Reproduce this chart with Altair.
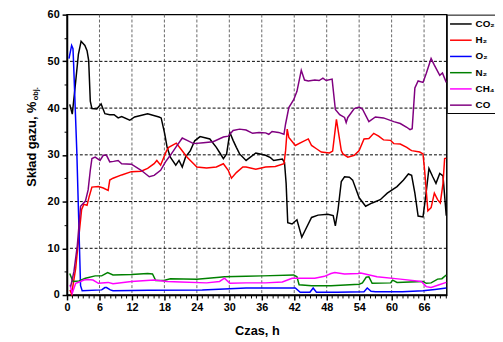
import altair as alt
import pandas as pd

# ---- data ----
gases = ["CO₂", "H₂", "O₂", "N₂", "CH₄", "CO"]
colors = ["#000000", "#ff0000", "#0000ff", "#008000", "#ff00ff", "#800080"]

co2_t = [0.5, 0.97, 1.6, 2.1, 2.6, 3.3, 3.7, 4.0, 4.3, 4.6, 5.5, 6.3, 7.0, 7.9, 8.7, 9.45, 10.1, 11.6, 12.5, 14.9,
         17.0, 17.4, 18.06, 18.5, 19.1, 20.1, 20.7, 21.3, 21.9, 22.8, 23.6, 24.6, 26.4, 27.6, 28.2, 28.9, 29.5, 30.1,
         30.7, 31.3, 31.9, 33.1, 34.9, 36.7, 37.6, 38.2, 39.8, 40.2, 40.5, 40.8, 41.6, 42.5, 43.4, 44.0, 45.2, 46.4,
         48.2, 49.2, 49.6, 50.1, 50.7, 51.3, 52.2, 52.8, 54.0, 55.2, 56.4, 57.9, 59.2, 61.0, 62.2, 63.1, 63.7, 64.3,
         64.9, 65.8, 66.3, 66.9, 67.6, 68.2, 68.9, 69.5, 70.1]
co2_v = [40.8, 38.7, 45.7, 51.5, 54.3, 53.4, 52.3, 50.2, 41.5, 39.9, 39.8, 40.9, 38.8, 38.6, 38.6, 37.9, 38.2, 37.4, 38.1, 38.8,
         38.1, 37.9, 34.5, 31.6, 29.5, 27.8, 28.8, 27.4, 29.5, 30.9, 33.0, 33.9, 33.4, 31.6, 30.5, 29.2, 30.2, 34.8,
         33.1, 31.6, 30.2, 28.8, 30.4, 29.9, 29.4, 28.8, 29.1, 28.4, 23.9, 15.5, 15.2, 16.1, 12.4, 13.8, 16.6, 17.1,
         17.3, 17.0, 14.8, 18.3, 24.3, 25.3, 25.2, 24.6, 20.8, 19.0, 19.7, 20.4, 21.8, 23.2, 24.6, 25.9, 25.6, 21.8,
         16.9, 16.7, 21.1, 27.1, 25.3, 23.9, 26.0, 25.5, 17.0]

h2_t = [0.55, 0.85, 1.6, 2.2, 2.7, 3.1, 3.7, 4.1, 4.6, 5.8, 6.7, 7.6, 7.9, 8.5, 10.1, 11.9, 13.7, 14.9, 16.1, 16.6,
        17.3, 17.9, 18.4, 18.8, 20.2, 21.0, 22.2, 24.0, 25.8, 27.6, 28.9, 29.8, 30.4, 31.3, 32.5, 33.1, 34.9, 36.7,
        38.5, 40.1, 40.4, 40.7, 41.0, 42.2, 43.4, 44.6, 45.2, 46.1, 47.0, 48.5, 49.1, 49.8, 50.7, 51.0, 51.9, 53.1,
        54.0, 54.9, 55.8, 56.7, 57.6, 58.5, 59.8, 60.4, 61.6, 62.8, 63.4, 63.7, 65.2, 65.8, 66.1, 66.7, 67.3, 67.9,
        68.5, 69.0, 69.5, 69.8, 70.1]
h2_v = [1.1, 0.2, 5.7, 12.7, 18.3, 19.4, 19.2, 21.1, 23.1, 23.2, 22.9, 22.4, 24.6, 25.0, 25.7, 26.4, 26.5, 27.1, 28.1, 28.8,
        27.8, 29.5, 30.9, 31.6, 32.5, 31.3, 29.5, 27.4, 27.2, 27.4, 28.1, 26.7, 25.0, 26.2, 27.4, 27.4, 26.9, 27.4,
        27.5, 28.1, 30.9, 35.5, 33.7, 32.0, 32.7, 33.4, 32.0, 31.3, 30.6, 30.4, 30.8, 37.6, 30.9, 30.2, 29.5, 29.9,
        30.9, 33.4, 33.5, 34.6, 34.0, 33.2, 33.1, 32.4, 32.3, 31.6, 31.1, 30.9, 30.6, 30.2, 26.7, 18.0, 18.7, 21.8,
        20.4, 19.7, 23.9, 29.2, 29.3]

o2_t = [0.36, 0.85, 1.1, 1.2, 1.8, 2.5, 2.8, 6.4, 7.0, 7.3, 8.0, 8.5, 15.0, 25.0, 33.1, 42.2, 43.1, 44.9, 45.5, 46.1,
        50.0, 54.9, 55.5, 56.2, 57.0, 62.0, 65.8, 68.0, 70.1]
o2_v = [50.6, 53.4, 52.7, 50.0, 31.0, 2.0, 0.9, 1.1, 1.6, 1.6, 1.1, 0.9, 1.0, 1.1, 1.5, 1.5, 0.6, 0.6, 1.5, 0.6,
        0.6, 0.7, 1.5, 0.8, 0.7, 0.7, 0.9, 1.2, 1.5]

n2_t = [0.5, 1.1, 2.2, 3.4, 5.2, 6.4, 7.5, 8.5, 11.9, 14.9, 15.8, 16.4, 17.9, 19.1, 24.0, 28.2, 29.1, 33.1, 36.1, 41.9,
        42.5, 42.9, 45.2, 48.8, 54.0, 54.6, 55.3, 55.8, 56.4, 59.8, 60.2, 61.0, 65.8, 66.4, 67.3, 68.5, 69.3, 70.1]
n2_v = [4.6, 2.9, 3.0, 3.6, 4.1, 4.1, 4.8, 4.3, 4.4, 4.6, 4.5, 3.1, 3.1, 3.5, 3.4, 3.8, 3.9, 4.0, 4.1, 4.3,
        3.9, 2.2, 2.0, 2.0, 2.3, 2.6, 3.8, 3.9, 2.5, 2.6, 3.2, 2.7, 2.9, 2.5, 2.6, 3.4, 3.5, 4.3]

ch4_t = [0.55, 0.97, 1.6, 2.5, 3.1, 3.9, 4.8, 5.8, 7.6, 8.5, 11.9, 16.1, 18.5, 21.0, 25.8, 28.2, 29.1, 30.1, 33.1, 36.7,
         39.8, 41.6, 42.8, 45.8, 47.6, 48.8, 49.5, 51.3, 53.8, 54.3, 57.3, 61.6, 65.5, 66.4, 67.3, 68.8, 70.1]
ch4_v = [2.2, 0.4, 2.5, 2.9, 3.2, 3.3, 3.2, 2.5, 2.7, 2.4, 2.9, 3.2, 2.9, 2.8, 2.6, 2.9, 3.6, 2.5, 2.6, 2.6,
         2.8, 3.6, 3.6, 3.6, 4.0, 4.6, 4.8, 4.5, 4.6, 4.7, 3.9, 3.4, 2.9, 1.8, 1.6, 2.2, 2.7]

co_t = [0.67, 1.27, 1.9, 2.5, 3.4, 3.9, 4.3, 4.6, 5.2, 6.1, 6.7, 7.3, 7.9, 8.6, 9.45, 10.1, 11.9, 13.7, 15.2, 16.1,
        17.3, 18.2, 19.1, 20.1, 21.3, 22.2, 23.4, 25.2, 27.0, 28.9, 29.8, 30.7, 31.9, 33.1, 34.3, 35.5, 36.7, 37.3,
        37.9, 39.1, 40.1, 40.4, 41.0, 41.9, 42.5, 43.3, 43.9, 44.6, 45.8, 46.6, 47.3, 47.9, 49.0, 49.6, 50.4, 51.3,
        51.6, 51.9, 53.1, 54.0, 54.6, 55.8, 57.0, 58.5, 60.4, 61.6, 62.8, 63.4, 63.8, 64.3, 64.9, 65.8, 66.4, 67.3,
        67.9, 68.9, 69.4, 70.1]
co_v = [1.8, 5.0, 10.6, 19.0, 20.1, 22.5, 26.7, 29.2, 29.5, 28.8, 29.9, 29.9, 28.5, 28.6, 28.8, 28.1, 28.0, 26.7, 25.3, 25.6,
        26.7, 28.5, 29.9, 31.6, 33.6, 33.1, 32.4, 32.6, 32.8, 33.8, 34.0, 35.2, 35.5, 35.3, 34.6, 34.8, 34.7, 34.4,
        35.0, 34.8, 34.4, 36.6, 40.1, 41.8, 43.6, 48.1, 46.0, 45.8, 46.0, 45.9, 46.4, 45.9, 46.2, 39.7, 38.6, 38.0,
        36.9, 38.0, 39.9, 40.2, 39.8, 37.1, 38.1, 37.9, 37.1, 36.7, 35.9, 35.4, 35.6, 44.3, 45.8, 45.5, 47.4, 50.6,
        49.2, 47.0, 47.5, 45.5]

x_ticks = list(range(0, 71))          # major every 6 h, minor every 1 h
y_ticks = list(range(0, 61, 5))       # major every 10, minor every 5
x_grid = [6, 12, 18, 24, 30, 36, 42, 48, 54, 60, 66]
y_grid = [10, 20, 30, 40, 50]

series = [(gases[0], co2_t, co2_v), (gases[1], h2_t, h2_v), (gases[2], o2_t, o2_v),
          (gases[3], n2_t, n2_v), (gases[4], ch4_t, ch4_v), (gases[5], co_t, co_v)]
rows = []
for g, ts, vs in series:
    for t, v in zip(ts, vs):
        rows.append({"gas": g, "t": t, "v": v})
df = pd.DataFrame(rows)

FONT = "Liberation Sans"
xs = alt.Scale(domain=[0, 70.2], nice=False, zero=False)
ys = alt.Scale(domain=[0, 60], nice=False)

xmaj = "datum.value % 6 === 0"
ymaj = "datum.value % 10 === 0"

x_axis = alt.Axis(values=x_ticks, orient="bottom", title="Czas, h",
                  labelExpr=f"{xmaj} ? datum.label : ''", labelOverlap=False,
                  grid=False,
                  tickSize={"condition": {"test": xmaj, "value": 5}, "value": 3},
                  tickWidth={"condition": {"test": xmaj, "value": 1.5}, "value": 1},
                  tickColor="black",
                  domainColor="black", domainWidth=1.5,
                  labelFont=FONT, labelFontSize=11, labelFontWeight="bold",
                  labelColor="black", labelPadding=2, labelFlush=False,
                  titleFont=FONT, titleFontSize=13, titleFontWeight="bold",
                  titleColor="black", titleBaseline="alphabetic", titleY=40)
y_axis = alt.Axis(values=y_ticks, orient="left", title=None,
                  labelExpr=f"{ymaj} ? datum.label : ''", labelOverlap=False,
                  grid=False,
                  tickSize={"condition": {"test": ymaj, "value": 5}, "value": 3},
                  tickWidth={"condition": {"test": ymaj, "value": 1.5}, "value": 1},
                  tickColor="black",
                  domainColor="black", domainWidth=1.5,
                  labelFont=FONT, labelFontSize=11, labelFontWeight="bold",
                  labelColor="black", labelPadding=3, labelFlush=False)

# dashed grid lines as rule marks, drawn beneath the data lines
vgrid = alt.Chart(pd.DataFrame({"t": x_grid})).mark_rule(
    color="#666666", strokeWidth=1, strokeDash=[3, 2]).encode(
    x=alt.X("t:Q", scale=xs, axis=x_axis))
hgrid = alt.Chart(pd.DataFrame({"v": y_grid})).mark_rule(
    color="#000000", strokeWidth=1, strokeDash=[3, 2]).encode(
    y=alt.Y("v:Q", scale=ys, axis=y_axis))

lines = alt.Chart(df).mark_line(strokeWidth=1.5).encode(
    x=alt.X("t:Q", scale=xs, axis=x_axis),
    y=alt.Y("v:Q", scale=ys, axis=y_axis),
    color=alt.Color("gas:N", scale=alt.Scale(domain=gases, range=colors),
                    legend=alt.Legend(orient="none", legendX=386, legendY=0, title=None,
                                      direction="vertical", strokeColor="black",
                                      fillColor="white", padding=3, rowPadding=4.5,
                                      symbolType="M-2,0H2", symbolSize=121,
                                      symbolStrokeWidth=1.5, symbolOffset=4.8,
                                      labelOffset=8.5,
                                      labelFont=FONT, labelFontSize=10,
                                      labelFontWeight="bold", labelColor="black")),
    detail="gas:N",
)

ytitle_main = alt.Chart(pd.DataFrame({"s": ["Skład gazu, %"]})).mark_text(
    angle=270, align="left", baseline="alphabetic", font=FONT, fontSize=13,
    fontWeight="bold", color="black").encode(
    text="s:N", x=alt.value(-32), y=alt.value(175))
ytitle_sub = alt.Chart(pd.DataFrame({"s": ["obj."]})).mark_text(
    angle=270, align="left", baseline="alphabetic", font=FONT, fontSize=7.5,
    fontWeight="bold", color="black").encode(
    text="s:N", x=alt.value(-29), y=alt.value(87))

chart = alt.layer(vgrid, hgrid, lines, ytitle_main, ytitle_sub).properties(
    width=386, height=285,
    autosize=alt.AutoSizeParams(type="none"),
    padding={"left": 60, "top": 4, "right": 49, "bottom": 45},
).configure_view(stroke="black", strokeWidth=1.5)

chart.save("out.html", embed_options={"renderer": "svg", "actions": False})
